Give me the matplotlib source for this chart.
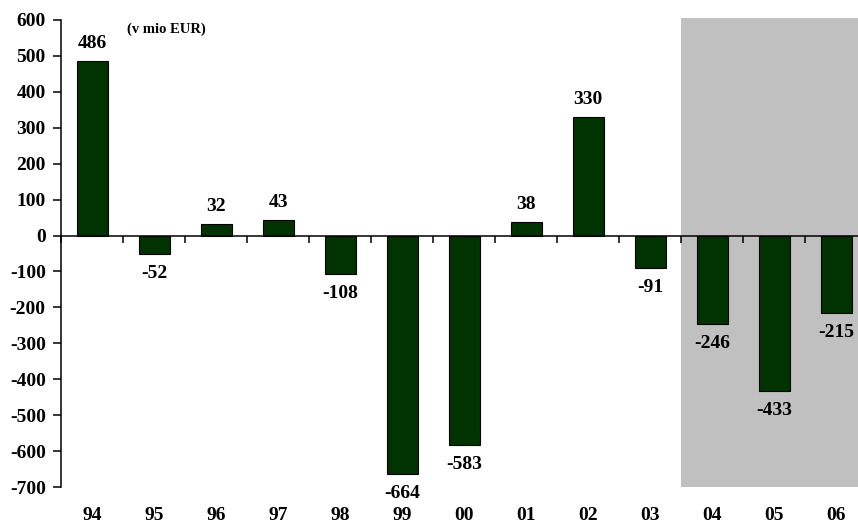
import matplotlib.pyplot as plt
import numpy as np

plt.rcParams['font.family'] = ['Liberation Serif', 'DejaVu Serif']
plt.rcParams['font.weight'] = 'bold'
plt.rcParams['axes.unicode_minus'] = False

# data
years = ['94', '95', '96', '97', '98', '99', '00', '01', '02', '03', '04', '05', '06']
values = [486, -52, 32, 43, -108, -664, -583, 38, 330, -91, -246, -433, -215]
forecast_from = 10  # first year in the shaded part

W, H = 858, 523
fig = plt.figure(figsize=(W / 100, H / 100), dpi=100)
# axes run a little past the right edge of the figure
ax = fig.add_axes([61 / W, 1 - 487 / H, 806 / W, 467 / H])

x = np.arange(len(years))
ax.axvspan(forecast_from - 0.5, len(years) - 0.5, ymin=0, ymax=1.004,
           color='#c0c0c0', lw=0, zorder=0, clip_on=False)
ax.bar(x, values, width=0.5, color='#003300', edgecolor='black', linewidth=0.8, zorder=2)

for xi, v in zip(x, values):
    if v >= 0:
        ax.annotate(str(v), (xi, v), xytext=(0, 9), textcoords='offset pixels',
                    ha='center', va='bottom', fontsize=14, fontweight='bold')
    else:
        ax.annotate(str(v), (xi, v), xytext=(0, -11), textcoords='offset pixels',
                    ha='center', va='top', fontsize=14, fontweight='bold')

# category labels under the plot area
for xi, lab in zip(x, years):
    ax.annotate(lab, (xi, 0), xycoords=('data', 'axes fraction'), xytext=(0, -29),
                textcoords='offset pixels', ha='center', va='center',
                fontsize=14, fontweight='bold')

fig.text(127 / W, 1 - 29 / H, '(v mio EUR)', fontsize=10.5, fontweight='bold',
         ha='left', va='center')

ax.set_xlim(-0.5, len(years) - 0.5)
ax.set_ylim(-700, 600)
ax.set_yticks(np.arange(-700, 601, 100))
ax.set_xticks(np.arange(-0.5, len(years), 1.0))
ax.set_xticklabels([])

ax.spines['top'].set_visible(False)
ax.spines['right'].set_visible(False)
ax.spines['bottom'].set_position(('data', 0))
ax.spines['bottom'].set_zorder(3)
ax.spines['left'].set_linewidth(1.1)
ax.spines['bottom'].set_linewidth(1.1)
ax.tick_params(axis='y', direction='out', length=6, width=1.1, pad=5, labelsize=14)
ax.tick_params(axis='x', direction='out', length=5, width=1.1)
for t in ax.get_yticklabels():
    t.set_fontweight('bold')

fig.savefig('out.png', dpi=100)
